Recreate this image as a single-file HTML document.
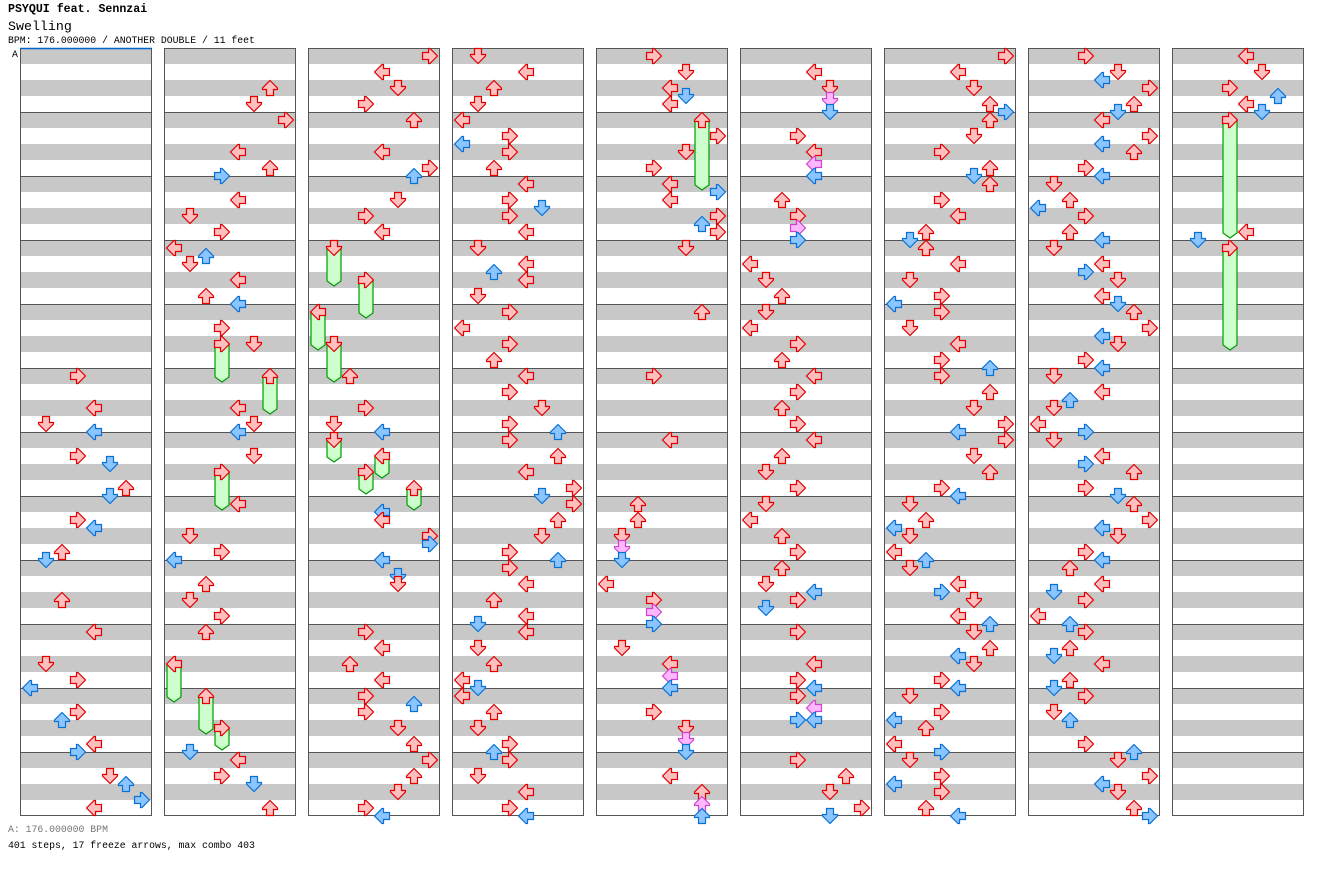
<!DOCTYPE html>
<html><head><meta charset="utf-8">
<style>
html,body{margin:0;padding:0;background:#fff;}
body{width:1328px;height:876px;overflow:hidden;position:relative;font-family:"Liberation Mono","DejaVu Sans Mono",monospace;}
.t{position:absolute;left:8px;white-space:nowrap;color:#000;}
</style></head><body>
<div class="t" style="top:3px;font-size:11.6px;font-weight:bold;">PSYQUI feat. Sennzai</div>
<div class="t" style="top:19px;font-size:13.3px;">Swelling</div>
<div class="t" style="top:35px;font-size:9.8px;">BPM: 176.000000 / ANOTHER DOUBLE / 11 feet</div>
<div class="t" style="top:824px;font-size:9.8px;color:#777;">A: 176.000000 BPM</div>
<div class="t" style="top:840px;font-size:9.8px;">401 steps, 17 freeze arrows, max combo 403</div>
<svg id="chart" width="1328" height="876" style="position:absolute;left:0;top:0;" xmlns="http://www.w3.org/2000/svg"></svg>
<script>
// notes: [tick (eighth-note within column), lane 0-7]
const col1Notes=[[40,3],[44,4],[46,1],[47,4],[50,3],[51,5],[54,6],[55,5],[58,3],[59,4],[62,2],[63,1],[68,2],[72,4],[76,1],[78,3],[79,0],[82,3],[83,2],[86,4],[87,3],[90,5],[91,6],[93,7],[94,4]];
const col2Notes=[[4,6],[6,5],[8,7],[12,4],[14,6],[15,3],[18,4],[20,1],[22,3],[24,0],[25,2],[26,1],[28,4],[30,2],[31,4],[34,3],[36,5],[44,4],[46,5],[47,4],[50,5],[56,4],[60,1],[62,3],[63,0],[66,2],[68,1],[70,3],[72,2],[87,1],[88,4],[90,3],[91,5],[94,6]];
const col3Notes=[[0,7],[2,4],[4,5],[6,3],[8,6],[12,4],[14,7],[15,6],[18,5],[20,3],[22,4],[40,2],[44,3],[46,1],[47,4],[57,4],[58,4],[60,7],[61,7],[63,4],[65,5],[66,5],[72,3],[74,4],[76,2],[78,4],[80,3],[81,6],[82,3],[84,5],[86,6],[88,7],[90,6],[92,5],[94,3],[95,4]];
const col4Notes=[[0,1],[2,4],[4,2],[6,1],[8,0],[10,3],[11,0],[12,3],[14,2],[16,4],[18,3],[19,5],[20,3],[22,4],[24,1],[26,4],[27,2],[28,4],[30,1],[32,3],[34,0],[36,3],[38,2],[40,4],[42,3],[44,5],[46,3],[47,6],[48,3],[50,6],[52,4],[54,7],[55,5],[56,7],[58,6],[60,5],[62,3],[63,6],[64,3],[66,4],[68,2],[70,4],[71,1],[72,4],[74,1],[76,2],[78,0],[79,1],[80,0],[82,2],[84,1],[86,3],[87,2],[88,3],[90,1],[92,4],[94,3],[95,4]];
const col5Notes=[[0,3],[2,5],[4,4],[5,5],[6,4],[10,7],[12,5],[14,3],[16,4],[17,7],[18,4],[20,7],[21,6],[22,7],[24,5],[32,6],[40,3],[48,4],[56,2],[58,2],[60,1],[61.5,1],[63,1],[66,0],[68,3],[69.5,3],[71,3],[74,1],[76,4],[77.5,4],[79,4],[82,3],[84,5],[85.5,5],[87,5],[90,4],[92,6],[93.5,6],[95,6]];
const col6Notes=[[2,4],[4,5],[5.5,5],[7,5],[10,3],[12,4],[13.5,4],[15,4],[18,2],[20,3],[21.5,3],[23,3],[26,0],[28,1],[30,2],[32,1],[34,0],[36,3],[38,2],[40,4],[42,3],[44,2],[46,3],[48,4],[50,2],[52,1],[54,3],[56,1],[58,0],[60,2],[62,3],[64,2],[66,1],[67,4],[68,3],[69,1],[72,3],[76,4],[78,3],[79,4],[80,3],[81.5,4],[83,4],[83,3],[88,3],[90,6],[92,5],[94,7],[95,5]];
const col7Notes=[[0,7],[2,4],[4,5],[6,6],[7,7],[8,6],[10,5],[12,3],[14,6],[15,5],[16,6],[18,3],[20,4],[22,2],[23,1],[24,2],[26,4],[28,1],[30,3],[31,0],[32,3],[34,1],[36,4],[38,3],[39,6],[40,3],[42,6],[44,5],[46,7],[47,4],[48,7],[50,5],[52,6],[54,3],[55,4],[56,1],[58,2],[59,0],[60,1],[62,0],[63,2],[64,1],[66,4],[67,3],[68,5],[70,4],[71,6],[72,5],[74,6],[75,4],[76,5],[78,3],[79,4],[80,1],[82,3],[83,0],[84,2],[86,0],[87,3],[88,1],[90,3],[91,0],[92,3],[94,2],[95,4]];
const col8Notes=[[0,3],[2,5],[3,4],[4,7],[6,6],[7,5],[8,4],[10,7],[11,4],[12,6],[14,3],[15,4],[16,1],[18,2],[19,0],[20,3],[22,2],[23,4],[24,1],[26,4],[27,3],[28,5],[30,4],[31,5],[32,6],[34,7],[35,4],[36,5],[38,3],[39,4],[40,1],[42,4],[43,2],[44,1],[46,0],[47,3],[48,1],[50,4],[51,3],[52,6],[54,3],[55,5],[56,6],[58,7],[59,4],[60,5],[62,3],[63,4],[64,2],[66,4],[67,1],[68,3],[70,0],[71,2],[72,3],[74,2],[75,1],[76,4],[78,2],[79,1],[80,3],[82,1],[83,2],[86,3],[87,6],[88,5],[90,7],[91,4],[92,5],[94,6],[95,7]];
const col9Notes=[[0,4],[2,5],[4,3],[5,6],[6,4],[7,5],[22,4],[23,1]];
// freezes: [column, startTick, endTick, lane]
const freezeData=[[1,36,40,3],[1,40,44,6],[1,52,56,3],[1,76,80,0],[1,80,84,2],[1,84,86,3],
[2,24,28,1],[2,28,32,3],[2,32,36,0],[2,36,40,1],[2,48,50,1],[2,50,52,4],[2,52,54,3],[2,54,56,6],
[4,8,16,6],[8,8,22,3],[8,24,36,3]];
const allNotes=[col1Notes,col2Notes,col3Notes,col4Notes,col5Notes,col6Notes,col7Notes,col8Notes,col9Notes];
const measuresPerCol=12;

const NS='http://www.w3.org/2000/svg';
const svg=document.getElementById('chart');
const TOP=48, COLW=132, GAP=12, LEFT0=20, MEAS=64, TICK=8;
function colX(c){return LEFT0+c*(COLW+GAP);}
function laneX(c,l){return colX(c)+10+16*l;}
function tickY(t){return TOP+8+t*TICK;}
const rot=[-90,180,0,90];
const colors={red:['#ffbfbf','#e00000'],blue:['#8cc4ff','#0a6fd6'],pink:['#ffb8ff','#cc44cc']};
function colorOf(t){if(t%1!==0)return colors.pink; return (t%2===0)?colors.red:colors.blue;}
function mk(tag,attrs){const e=document.createElementNS(NS,tag);for(const k in attrs)e.setAttribute(k,attrs[k]);return e;}

for(let c=0;c<allNotes.length;c++){
  const g=mk('g',{});
  
  
  svg.appendChild(g);
  const x=colX(c);
  g.appendChild(mk('rect',{x:x,y:TOP,width:COLW,height:MEAS*measuresPerCol,fill:'#fff'}));
  for(let m=0;m<measuresPerCol;m++){
    const y=TOP+m*MEAS;
    g.appendChild(mk('rect',{x:x,y:y,width:COLW,height:16,fill:'#c8c8c8'}));
    g.appendChild(mk('rect',{x:x,y:y+32,width:COLW,height:16,fill:'#c8c8c8'}));
    if(m>0)g.appendChild(mk('line',{x1:x,y1:y+0.5,x2:x+COLW,y2:y+0.5,stroke:'#555','stroke-width':1}));
  }
  g.appendChild(mk('rect',{x:x+0.5,y:TOP+0.5,width:COLW-1,height:MEAS*measuresPerCol-1,fill:'none',stroke:'#555','stroke-width':1}));
}
const startLine=mk('line',{x1:20,y1:48.5,x2:152,y2:48.5,stroke:'#0066cc','stroke-width':1.5});


svg.appendChild(startLine);
const aLbl=mk('text',{x:12,y:57,'font-size':9.8,'font-family':'Liberation Mono, monospace',fill:'#000'});
aLbl.textContent='A';


svg.appendChild(aLbl);

function arrow(cx,cy,lane,col){
  return mk('polygon',{points:'0,-7.5 7.5,0 7.5,1.5 3.5,1.5 3.5,7.5 -3.5,7.5 -3.5,1.5 -7.5,1.5 -7.5,0',
    transform:'translate('+cx+','+cy+') rotate('+rot[lane%4]+')',fill:col[0],stroke:col[1],'stroke-width':1.2});
}
for(const f of freezeData){
  const c=f[0],x=laneX(c,f[3]),y1=tickY(f[1]),y2=tickY(f[2])+6;
  const body=mk('path',{d:'M'+(x-7)+','+y1+' L'+(x+7)+','+y1+' L'+(x+7)+','+(y2-5)+' L'+x+','+y2+' L'+(x-7)+','+(y2-5)+' Z',fill:'#ccffcc',stroke:'#009900','stroke-width':1.2});
  
  
  svg.appendChild(body);
  const h=arrow(x,y1,f[3],colorOf(f[1]));
  
  
  svg.appendChild(h);
}
for(let c=0;c<allNotes.length;c++){
  for(const n of allNotes[c]){
    const a=arrow(laneX(c,n[1]),tickY(n[0]),n[1],colorOf(n[0]));
    
    
    svg.appendChild(a);
  }
}
</script>
</body></html>
